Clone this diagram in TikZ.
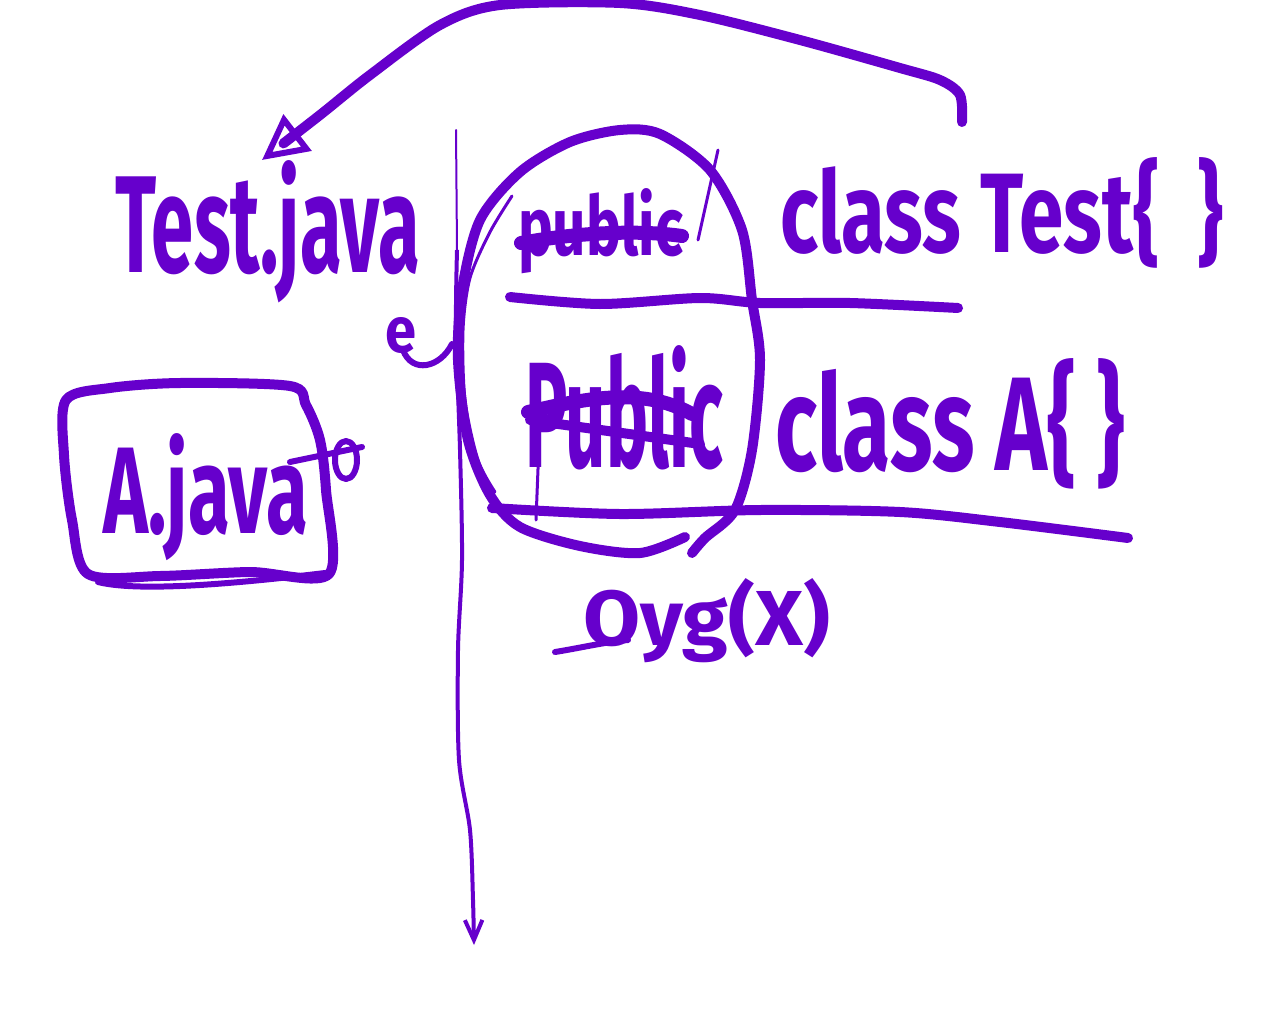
\documentclass[tikz,border=0pt]{standalone}
\usepackage{fontspec}
\setmainfont{Fira Sans}
\usetikzlibrary{arrows.meta}
\definecolor{ink}{HTML}{6600CC}
\begin{document}
\begin{tikzpicture}[x=0.02cm,y=-0.02cm,
  hw/.style={anchor=base west,inner sep=0pt,outer sep=0pt,text=ink,font=\bfseries},
  thick ink/.style={draw=ink,line width=10*0.02cm,line cap=round,line join=round},
  mid ink/.style={draw=ink,line width=6*0.02cm,line cap=round,line join=round},
  thin ink/.style={draw=ink,line width=3*0.02cm,line cap=round,line join=round},
  strike/.style={draw=ink,line width=14*0.02cm,line cap=round}]
\useasboundingbox[fill=white] (0,0) rectangle (1280,1024);

% texts
\node[hw] (testjava) at (115,272) {\resizebox{6.1cm}{2.24cm}{Test.java}};
\node[hw] (e) at (385,352) {\resizebox{0.62cm}{0.7cm}{e}};
\node[hw] (pub1) at (518,255) {\resizebox{3.3cm}{1.34cm}{public}};
\node[hw] (classtest) at (780,252) {\resizebox{8.86cm}{1.9cm}{class Test\{~~\}}};
\node[hw] (pub2) at (525,467) {\resizebox{3.96cm}{2.44cm}{Public}};
\node[hw] (classa) at (775,470) {\resizebox{7cm}{2.24cm}{class A\{~\}}};
\node[hw] (ajava) at (103,533) {\resizebox{4.1cm}{2cm}{A.java}};
\node[hw] (oyg) at (583,645) {\resizebox{4.94cm}{1.34cm}{Oyg(X)}};

% strike-throughs
\draw[strike] (521,243) .. controls (580,232) and (640,230) .. (682,236);
\draw[strike] (528,412) .. controls (580,400) and (640,385) .. (692,414);
\draw[draw=ink,line width=10*0.02cm,line cap=round] (530,420) -- (700,444);
\draw[thin ink] (718,150) -- (698,240);
\draw[thin ink] (540,418) -- (536,520);
\draw[mid ink] (555,652) .. controls (580,648) and (605,642) .. (628,640);

% underlines
\draw[thick ink] plot[smooth] coordinates {(510,297) (600,304) (700,298) (760,303) (850,303) (958,308)};
\draw[thick ink] plot[smooth] coordinates {(492,508) (620,514) (760,510) (900,512) (1000,522) (1128,538)};

% ellipse round the public words
\draw[thick ink] plot[smooth] coordinates {(685,537) (640,553) (580,546) (520,527) (490,495) (468,440) (458,360) (462,290) (480,220) (520,172) (570,142) (620,130) (660,134) (710,170) (742,230) (752,300) (760,360) (752,450) (735,510) (705,538) (692,553)};
\draw[thin ink] plot[smooth] coordinates {(512,196) (490,232) (470,278) (463,330) (465,400) (478,460) (495,492)};

% e tail
\draw[mid ink] (403,350) .. controls (412,374) and (440,368) .. (452,344);

% A.java box
\draw[thick ink] plot[smooth cycle] coordinates {(66,400) (110,388) (180,383) (290,386) (306,405) (320,440) (326,490) (329,574) (250,572) (160,576) (88,574) (72,520) (64,455)};
\draw[mid ink] (98,582) .. controls (130,590) and (200,588) .. (325,573);
\draw[mid ink] (290,462) -- (362,447);
\draw[mid ink] (346,460) ellipse [x radius=11, y radius=19];

% vertical line with arrow
\draw[thin ink,line width=2*0.02cm] (456,130) -- (457,250);
\coordinate (vtop) at (457,250);
\coordinate (vend) at (474,945);
\draw[draw=ink,line width=4*0.02cm,-{Straight Barb[length=0.4cm,width=0.35cm]}] plot[smooth] coordinates {(vtop) (456,330) (460,450) (462,560) (458,650) (459,760) (470,830) (473,900) (vend)};

% big arrow to Test.java
\coordinate (bstart) at (962,122);
\coordinate (bend) at (262,160);
\draw[thick ink,-{Triangle[open,length=0.9cm,width=0.9cm,line width=6*0.02cm]}] plot[smooth] coordinates {(bstart) (960,95) (940,80) (900,68) (800,40) (700,15) (620,3) (500,5) (440,25) (370,75) (320,115) (bend)};
\end{tikzpicture}
\end{document}
